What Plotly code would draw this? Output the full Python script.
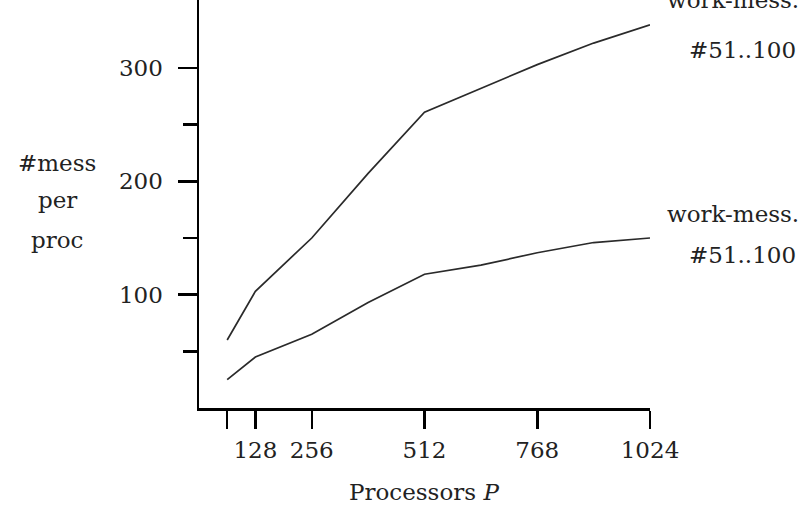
import plotly.graph_objects as go

processors = [64, 128, 256, 384, 512, 640, 768, 896, 1024]
upper_mess = [60, 103, 150, 207, 261, 282, 303, 322, 338]
lower_mess = [25, 45, 65, 93, 118, 126, 137, 146, 150]

x_tickvals = [64, 128, 256, 512, 768, 1024]
x_ticktext = ["", "128", "256", "512", "768", "1024"]
y_tickvals = [100, 200, 300]
y_minor = [50, 150, 250]

FONT = "DejaVu Serif"
fs = 23

W, H = 810, 527
L, R, T, B = 199, 160, 0, 119
PW, PH = W - L - R, H - T - B

fig = go.Figure()
for ys in (upper_mess, lower_mess):
    fig.add_trace(go.Scatter(x=processors, y=ys, mode="lines",
                             line=dict(color="#2a2a2a", width=1.7),
                             showlegend=False, hoverinfo="skip"))

fig.update_layout(
    width=W, height=H,
    margin=dict(l=L, r=R, t=T, b=B, autoexpand=False),
    paper_bgcolor="white", plot_bgcolor="white",
    font=dict(family=FONT, size=fs, color="#222"),
    xaxis=dict(range=[0, 1024], showgrid=False, zeroline=False, automargin=False,
               showline=True, linecolor="black", linewidth=2.5,
               ticks="outside", ticklen=18, tickwidth=2.5, tickcolor="black",
               tickvals=x_tickvals, ticktext=x_ticktext, ticklabelstandoff=2),
    yaxis=dict(range=[0, 360], showgrid=False, zeroline=False, automargin=False,
               showline=True, linecolor="black", linewidth=2.5,
               ticks="outside", ticklen=19, tickwidth=2.5, tickcolor="black",
               tickvals=y_tickvals, ticklabelstandoff=10,
               minor=dict(tickvals=y_minor, ticks="outside", ticklen=14,
                          tickwidth=2.5, tickcolor="black", showgrid=False)),
)

def ann(text, px, py):
    fig.add_annotation(text=text, x=(px - L) / PW, y=(H - B - py) / PH,
                       xref="paper", yref="paper",
                       showarrow=False, font=dict(family=FONT, size=fs, color="#222"),
                       xanchor="center", yanchor="middle")

ann("work-mess.", 733, 0)
ann("#51..100", 742, 50)
ann("work-mess.", 733, 214)
ann("#51..100", 742, 255)
ann("#mess", 57, 163)
ann("per", 57, 200)
ann("proc", 57, 240)
ann("Processors <i>P</i>", 424, 492)

fig.write_html("out.html", config={"displayModeBar": False, "staticPlot": True},
               post_script="document.body.style.margin='0';document.body.style.overflow='hidden';")
